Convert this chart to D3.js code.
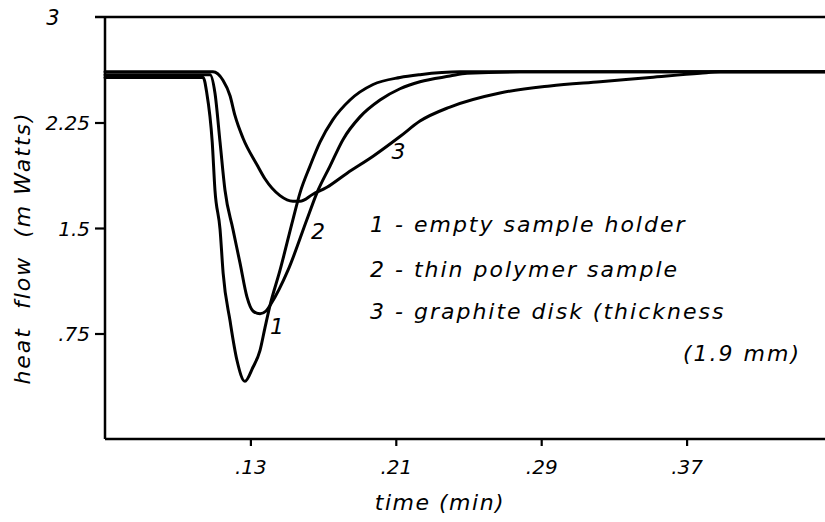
<!DOCTYPE html>
<html><head><meta charset="utf-8">
<script src="https://cdn.jsdelivr.net/npm/d3@7"></script>
<style>
body{margin:0;background:#fff;}
svg{display:block;}
text{font-family:"DejaVu Sans",sans-serif;font-style:italic;fill:#000;white-space:pre;}
</style>
</head><body>
<svg id="chart" width="825" height="522"></svg>
<script>
// ---- data (time in min, heat flow in mW) ----
const xTicks = [0.13, 0.21, 0.29, 0.37];
const xTickLabels = [".13", ".21", ".29", ".37"];
const yTicks = [0.75, 1.5, 2.25];
const yTickLabels = [".75", "1.5", "2.25"];
const yTopValue = 3;
const yTopLabel = "3";
const xTitle = "time (min)";
const yTitle = "heat  flow  (m Watts)";

const emptyHolder = [
  [0.05,2.57],[0.104,2.57],[0.106,2.46],[0.109,2.11],[0.1105,1.77],[0.1133,1.49],
  [0.115,1.18],[0.1188,0.84],[0.1226,0.56],[0.127,0.41],[0.1314,0.51],[0.1353,0.63],
  [0.138,0.79],[0.1408,0.95],[0.1463,1.2],[0.1534,1.56],[0.1573,1.75],[0.1628,1.94],
  [0.1683,2.11],[0.1754,2.27],[0.1848,2.41],[0.1975,2.52],[0.2123,2.57],[0.2233,2.59],
  [0.2453,2.61],[0.446,2.61]
];
const thinPolymer = [
  [0.05,2.59],[0.1078,2.59],[0.1105,2.46],[0.1133,2.11],[0.116,1.77],[0.1204,1.49],
  [0.1243,1.25],[0.1281,1.01],[0.1314,0.91],[0.1353,0.89],[0.1386,0.91],[0.1413,0.96],
  [0.1507,1.2],[0.1611,1.56],[0.1666,1.75],[0.1738,1.94],[0.181,2.13],[0.1903,2.29],
  [0.2013,2.41],[0.2123,2.49],[0.2233,2.54],[0.2398,2.58],[0.2492,2.60],[0.2783,2.61],
  [0.446,2.61]
];
const graphiteDisk = [
  [0.05,2.61],[0.1094,2.61],[0.1149,2.55],[0.1188,2.44],[0.1215,2.30],[0.1259,2.14],
  [0.1336,1.95],[0.138,1.85],[0.1463,1.73],[0.1534,1.69],[0.1573,1.69],[0.1644,1.74],
  [0.1721,1.79],[0.1832,1.89],[0.1975,2.01],[0.2123,2.15],[0.2233,2.26],[0.2398,2.36],
  [0.2673,2.46],[0.2948,2.51],[0.3224,2.54],[0.3499,2.57],[0.3774,2.60],[0.3884,2.61],
  [0.446,2.61]
];
const seriesList = [emptyHolder, thinPolymer, graphiteDisk];
const curveLabels = ["1", "2", "3"];
const curveLabelAnchors = [[0.1446,0.75],[0.1672,1.42],[0.2115,1.99]];
const legendLines = ["1 - empty sample holder", "2 - thin polymer sample", "3 - graphite disk (thickness", "(1.9 mm)"];

// ---- drawing ----
const svg = d3.select("#chart");
const x = d3.scaleLinear().domain([0.05, 0.45]).range([105, 832]);
const y = d3.scaleLinear().domain([0, 3]).range([439, 17]);

// axes lines
svg.append("line").attr("x1", 105).attr("x2", 825).attr("y1", y(0)).attr("y2", y(0))
  .attr("stroke", "#000").attr("stroke-width", 2.5);
svg.append("line").attr("x1", 105).attr("x2", 105).attr("y1", y(yTopValue)).attr("y2", y(0))
  .attr("stroke", "#000").attr("stroke-width", 2.5);
svg.append("line").attr("x1", 95).attr("x2", 825).attr("y1", y(yTopValue)).attr("y2", y(yTopValue))
  .attr("stroke", "#000").attr("stroke-width", 2.5);

// y axis
const yAxis = d3.axisLeft(y).tickValues(yTicks).tickFormat((d, i) => yTickLabels[i]).tickSize(10).tickPadding(5);
const gy = svg.append("g").attr("transform", "translate(105,0)").call(yAxis);
gy.attr("font-size", null).attr("font-family", null);
gy.select(".domain").remove();
gy.selectAll(".tick line").attr("stroke", "#000").attr("stroke-width", 2.2);
gy.selectAll(".tick text").style("font-size", "20px").attr("dy", "0.35em");

svg.append("text").attr("x", 53).attr("y", y(yTopValue) + 8).attr("text-anchor", "middle")
  .style("font-size", "21px").text(yTopLabel);

// x axis
const xAxis = d3.axisBottom(x).tickValues(xTicks).tickFormat((d, i) => xTickLabels[i]).tickSize(7).tickPadding(14);
const gx = svg.append("g").attr("transform", `translate(0,${y(0)})`).call(xAxis);
gx.attr("font-size", null).attr("font-family", null);
gx.select(".domain").remove();
gx.selectAll(".tick line").attr("stroke", "#000").attr("stroke-width", 2.2);
gx.selectAll(".tick text").style("font-size", "20px");

// titles
svg.append("text").attr("x", 440).attr("y", 510).attr("text-anchor", "middle")
  .style("font-size", "22px").style("letter-spacing", "1.5px").text(xTitle);
svg.append("text").attr("transform", "translate(30,248) rotate(-90)").attr("text-anchor", "middle")
  .style("font-size", "22px").style("letter-spacing", "2px").text(yTitle);

// curves
const line = d3.line().x(d => x(d[0])).y(d => y(d[1])).curve(d3.curveMonotoneX);
svg.append("g").selectAll("path").data(seriesList).join("path")
  .attr("d", line).attr("fill", "none").attr("stroke", "#000").attr("stroke-width", 3)
  .attr("stroke-linejoin", "round").attr("stroke-linecap", "round");

// curve labels
svg.append("g").selectAll("text").data(curveLabels).join("text")
  .attr("x", (d, i) => x(curveLabelAnchors[i][0])).attr("y", (d, i) => y(curveLabelAnchors[i][1]))
  .attr("text-anchor", "middle").style("font-size", "22px").text(d => d);

// legend text
const legendPos = [[370, 232], [370, 277], [370, 319], [683, 361]];
svg.append("g").selectAll("text").data(legendLines).join("text")
  .attr("x", (d, i) => legendPos[i][0]).attr("y", (d, i) => legendPos[i][1])
  .style("font-size", "22px").style("letter-spacing", "2px").text(d => d);
</script>
</body></html>
